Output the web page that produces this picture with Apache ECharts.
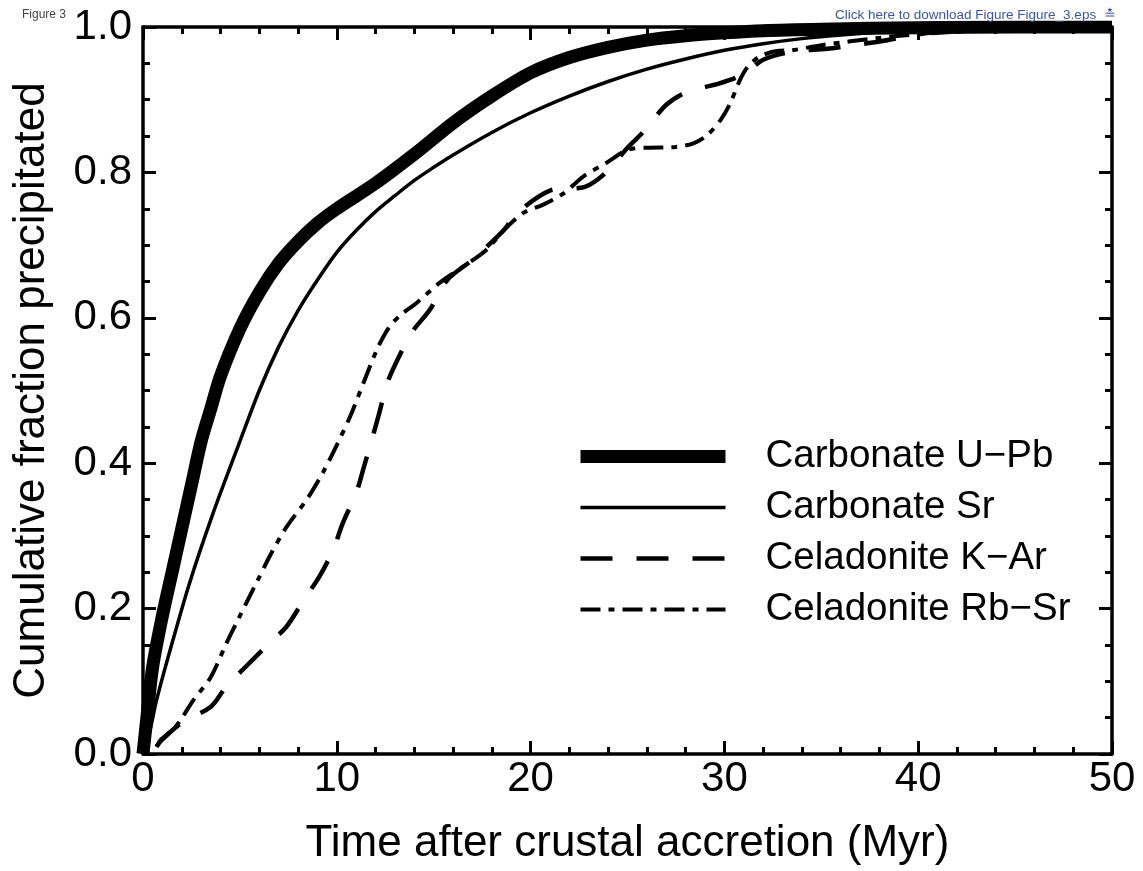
<!DOCTYPE html>
<html>
<head>
<meta charset="utf-8">
<script src="https://cdn.jsdelivr.net/npm/echarts@6/dist/echarts.min.js"></script>
<style>
html,body{margin:0;padding:0;background:#fff;}
#chart{width:1143px;height:871px;}
</style>
</head>
<body>
<div id="chart"></div>
<script>
// ---- data ----
const seriesNames = ['Carbonate U\u2212Pb', 'Carbonate Sr', 'Celadonite K\u2212Ar', 'Celadonite Rb\u2212Sr'];

const uPbX = [0, 0.2, 0.5, 1, 1.5, 2, 2.5, 3, 3.5, 4, 5, 6, 7, 8, 9, 10, 12, 14, 16, 18, 20, 22, 24, 26, 28, 30, 32, 35, 40, 45, 50];
const uPbY = [0, 0.05, 0.12, 0.19, 0.25, 0.31, 0.37, 0.43, 0.475, 0.52, 0.585, 0.635, 0.675, 0.705, 0.73, 0.75, 0.785, 0.825, 0.868, 0.905, 0.937, 0.958, 0.972, 0.982, 0.988, 0.992, 0.995, 0.997, 0.999, 1.0, 1.0];

const srX = [0, 0.3, 0.7, 1.4, 2.4, 3.6, 5, 6, 7, 8, 9, 10, 11, 12, 13, 14, 15, 16, 18, 20, 22, 24, 26, 28, 30, 32, 34, 36, 38, 40, 45, 50];
const srY = [0, 0.025, 0.074, 0.143, 0.235, 0.33, 0.43, 0.5, 0.56, 0.61, 0.652, 0.69, 0.72, 0.746, 0.768, 0.789, 0.807, 0.824, 0.855, 0.882, 0.905, 0.925, 0.942, 0.956, 0.968, 0.977, 0.984, 0.989, 0.993, 0.996, 0.999, 1.0];

const kArX = [0.7, 1, 2, 3.5, 4.3, 5.3, 6.5, 7.4, 8.3, 9.1, 9.8, 10.3, 11, 11.4, 11.9, 12.2, 12.6, 13.2, 13.9, 14.8, 15.7, 17, 18.6, 19.3, 21, 22.8, 23.9, 25, 25.9, 27, 28.1, 29.7, 31, 32, 33.5, 35.3, 36.6, 38, 40, 42, 45, 50];
const kArY = [0.01, 0.02, 0.043, 0.065, 0.093, 0.12, 0.152, 0.175, 0.212, 0.244, 0.28, 0.317, 0.359, 0.395, 0.441, 0.47, 0.51, 0.546, 0.581, 0.611, 0.652, 0.68, 0.72, 0.744, 0.775, 0.78, 0.8, 0.834, 0.858, 0.893, 0.911, 0.922, 0.935, 0.955, 0.966, 0.97, 0.975, 0.98, 0.99, 0.996, 1.0, 1.0];

const rbSrX = [0.7, 0.9, 1.7, 2.6, 3.5, 4.3, 5, 5.9, 6.6, 7.4, 8.5, 9.3, 10, 10.7, 11.4, 12.1, 12.7, 13.3, 14.1, 15.3, 16.5, 17.7, 18.6, 19.6, 20.6, 21.7, 22.7, 23.9, 25, 26, 27.5, 28.4, 29.1, 29.8, 30.3, 30.8, 31.2, 31.8, 32.7, 33.5, 35, 38, 40, 45, 50];
const rbSrY = [0.01, 0.019, 0.038, 0.074, 0.106, 0.152, 0.19, 0.238, 0.275, 0.312, 0.352, 0.388, 0.425, 0.465, 0.512, 0.558, 0.587, 0.604, 0.62, 0.648, 0.67, 0.693, 0.72, 0.744, 0.755, 0.771, 0.794, 0.813, 0.831, 0.834, 0.835, 0.84, 0.851, 0.872, 0.895, 0.927, 0.945, 0.959, 0.967, 0.968, 0.975, 0.985, 0.99, 0.998, 1.0];

const xTitle = 'Time after crustal accretion (Myr)';
const yTitle = 'Cumulative fraction precipitated';

// ---- build ----
function pairs(xs, ys) { return xs.map((x, i) => [x, ys[i]]); }

const FONT = 'Liberation Sans, Arial, Helvetica, sans-serif';
const styles = [
  { width: 13, type: 'solid' },
  { width: 3.5, type: 'solid' },
  { width: 4.5, type: [32, 24] },
  { width: 4, type: [20, 8, 6, 8] }
];
const datas = [pairs(uPbX, uPbY), pairs(srX, srY), pairs(kArX, kArY), pairs(rbSrX, rbSrY)];

const chart = echarts.init(document.getElementById('chart'), null, { renderer: 'canvas' });

const axisLine = { show: true, onZero: false, lineStyle: { color: '#000', width: 3.5 } };
const mainTick = { show: true, inside: true, length: 13, lineStyle: { color: '#000', width: 3 } };
const minorTick = { show: true, length: 7, lineStyle: { color: '#000', width: 3 } };

const option = {
  backgroundColor: '#fff',
  animation: false,
  title: [
    { text: 'Figure 3', left: 17, top: 4, textStyle: { fontFamily: FONT, fontSize: 12, fontWeight: 'normal', color: '#444' } },
    { text: 'Click here to download Figure Figure_3.eps  \u225B', left: 830, top: 3, textStyle: { fontFamily: FONT, fontSize: 13.5, fontWeight: 'normal', color: '#3a55a4' } }
  ],
  grid: { left: 143, right: 31, top: 27, bottom: 117, containLabel: false, outerBoundsMode: 'none' },
  legend: {
    orient: 'vertical',
    left: 569,
    top: 432,
    itemWidth: 145,
    itemHeight: 14,
    itemGap: 12,
    selectedMode: false,
    itemStyle: { color: 'rgba(0,0,0,0)', borderWidth: 0, opacity: 0 },
    textStyle: { fontFamily: FONT, fontSize: 38.5, color: '#000', lineHeight: 39, padding: [0, 0, 0, 35] },
    data: seriesNames.map((n, i) => ({ name: n, lineStyle: { width: styles[i].width, type: styles[i].type, color: '#000' } }))
  },
  xAxis: [
    {
      type: 'value', min: 0, max: 50, interval: 10, position: 'bottom',
      name: xTitle, nameLocation: 'middle', nameGap: 68,
      nameTextStyle: { fontFamily: FONT, fontSize: 44, color: '#000' },
      axisLine: axisLine, axisTick: mainTick, minorTick: Object.assign({ splitNumber: 5 }, minorTick),
      splitLine: { show: false },
      axisLabel: { fontFamily: FONT, fontSize: 42, color: '#000', margin: 4 }
    },
    {
      type: 'value', min: 0, max: 50, interval: 10, position: 'top',
      axisLine: axisLine, axisTick: mainTick, minorTick: Object.assign({ splitNumber: 5 }, minorTick),
      splitLine: { show: false }, axisLabel: { show: false }
    }
  ],
  yAxis: [
    {
      type: 'value', min: 0, max: 1, interval: 0.2, position: 'left',
      name: yTitle, nameLocation: 'middle', nameGap: 89, nameRotate: 90,
      nameTextStyle: { fontFamily: FONT, fontSize: 44, color: '#000' },
      axisLine: axisLine, axisTick: mainTick, minorTick: Object.assign({ splitNumber: 4 }, minorTick),
      splitLine: { show: false },
      axisLabel: { fontFamily: FONT, fontSize: 42, color: '#000', margin: 11, formatter: v => v.toFixed(1) }
    },
    {
      type: 'value', min: 0, max: 1, interval: 0.2, position: 'right',
      axisLine: axisLine, axisTick: mainTick, minorTick: Object.assign({ splitNumber: 4 }, minorTick),
      splitLine: { show: false }, axisLabel: { show: false }
    }
  ],
  series: seriesNames.map((n, i) => ({
    name: n,
    type: 'line',
    xAxisIndex: 0,
    yAxisIndex: 0,
    data: datas[i],
    smooth: 0.3,
    showSymbol: false,
    symbol: 'none',
    clip: true,
    lineStyle: { color: '#000', width: styles[i].width, type: styles[i].type },
    itemStyle: { color: '#000' },
    z: 4 - i
  }))
};
chart.setOption(option);
</script>
</body>
</html>
